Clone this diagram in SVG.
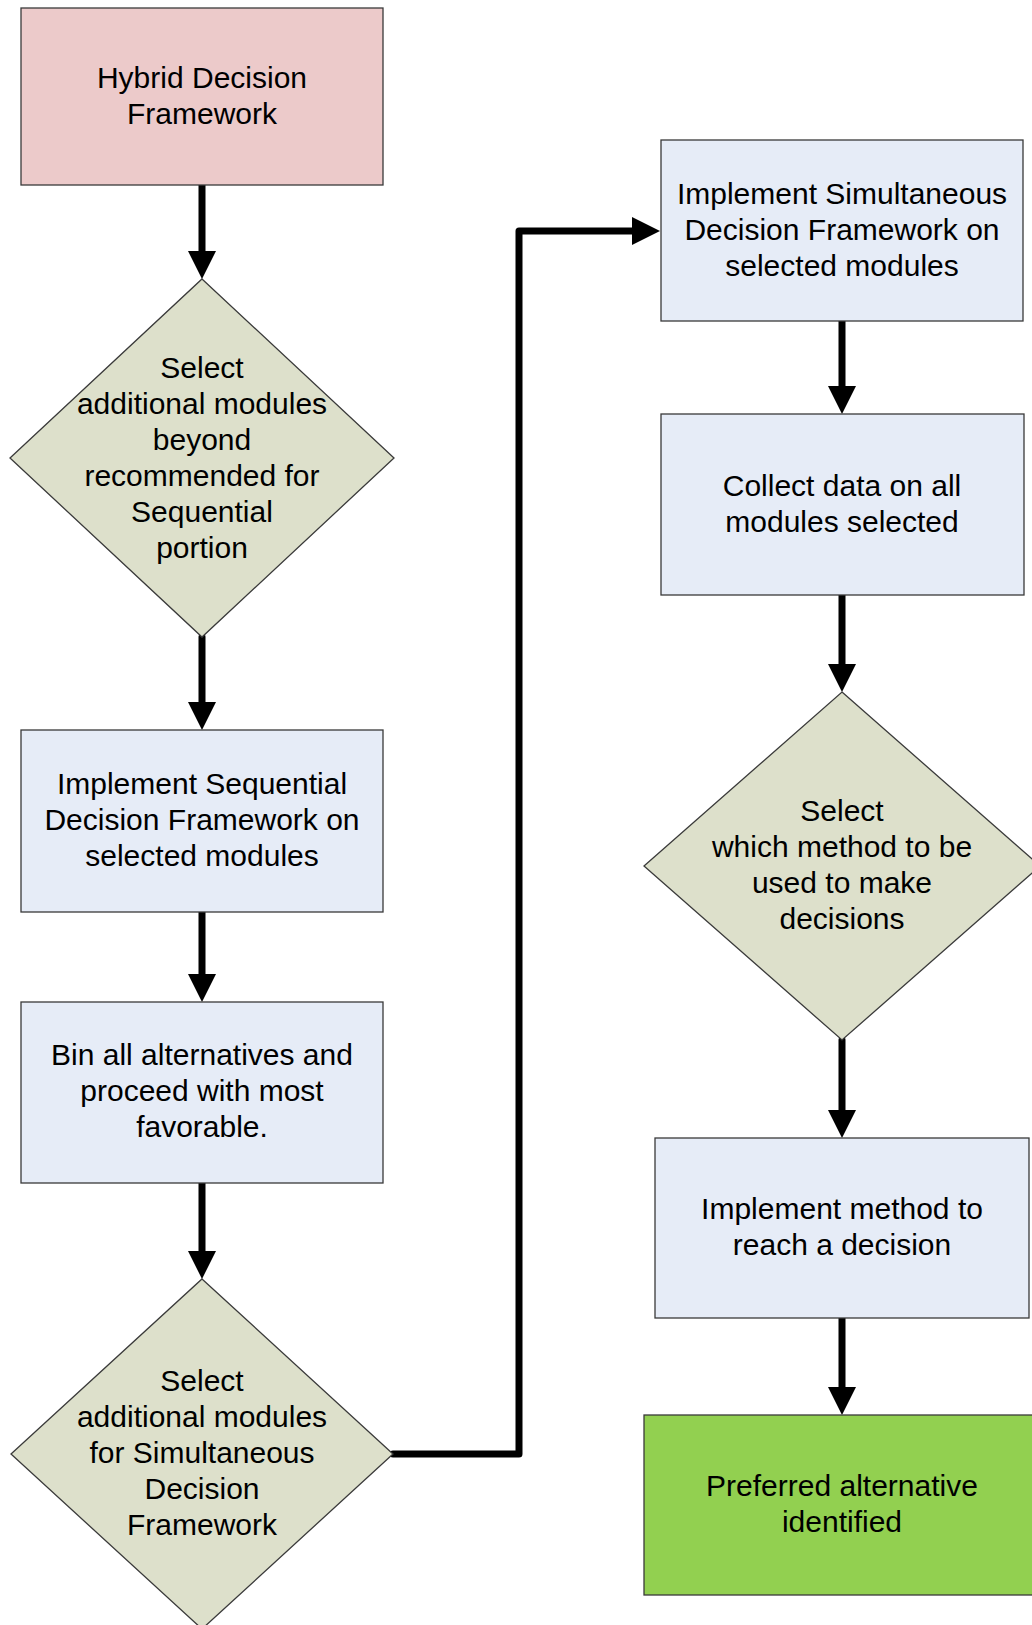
<svg xmlns="http://www.w3.org/2000/svg" width="1032" height="1625" viewBox="0 0 1032 1625">
  <style>
    .box { stroke: #3a3a3a; stroke-width: 1.3; }
    .start { fill: #ECCACA; }
    .step { fill: #E6ECF7; }
    .decision { fill: #DDE0CB; }
    .end { fill: #92D050; }
    .label { font-family: "Liberation Sans", Arial, sans-serif; font-size: 30px; fill: #000; text-anchor: middle; }
    .flow { fill: none; stroke: #000; stroke-width: 7; stroke-linecap: round; stroke-linejoin: round; marker-end: url(#head); }
  </style>
  <defs>
    <marker id="head" markerUnits="userSpaceOnUse" markerWidth="28" markerHeight="28" refX="8" refY="14" orient="auto">
      <path d="M0,0 L28,14 L0,28 Z" fill="#000"/>
    </marker>
  </defs>

  <rect width="1032" height="1625" fill="#fff"/>

  <g id="connectors">
    <path class="flow" d="M202,185 V259"/>
    <path class="flow" d="M202,637 V710"/>
    <path class="flow" d="M202,912 V982"/>
    <path class="flow" d="M202,1183 V1259"/>
    <path class="flow" d="M393,1454 H519 V231 H640"/>
    <path class="flow" d="M842,321 V394"/>
    <path class="flow" d="M842,595 V672"/>
    <path class="flow" d="M842,1040 V1118"/>
    <path class="flow" d="M842,1318 V1395"/>
  </g>

  <g id="hybrid-framework">
    <rect class="box start" x="21" y="8" width="362" height="177"/>
    <text class="label"><tspan x="202" y="88">Hybrid Decision</tspan><tspan x="202" y="124">Framework</tspan></text>
  </g>

  <g id="select-sequential-modules">
    <polygon class="box decision" points="202,279 394,458 202,637 10,458"/>
    <text class="label"><tspan x="202" y="378">Select</tspan><tspan x="202" y="414">additional modules</tspan><tspan x="202" y="450">beyond</tspan><tspan x="202" y="486">recommended for</tspan><tspan x="202" y="522">Sequential</tspan><tspan x="202" y="558">portion</tspan></text>
  </g>

  <g id="implement-sequential">
    <rect class="box step" x="21" y="730" width="362" height="182"/>
    <text class="label"><tspan x="202" y="794">Implement Sequential</tspan><tspan x="202" y="830">Decision Framework on</tspan><tspan x="202" y="866">selected modules</tspan></text>
  </g>

  <g id="bin-alternatives">
    <rect class="box step" x="21" y="1002" width="362" height="181"/>
    <text class="label"><tspan x="202" y="1065">Bin all alternatives and</tspan><tspan x="202" y="1101">proceed with most</tspan><tspan x="202" y="1137">favorable.</tspan></text>
  </g>

  <g id="select-simultaneous-modules">
    <polygon class="box decision" points="202,1279 393,1454 202,1629 11,1454"/>
    <text class="label"><tspan x="202" y="1391">Select</tspan><tspan x="202" y="1427">additional modules</tspan><tspan x="202" y="1463">for Simultaneous</tspan><tspan x="202" y="1499">Decision</tspan><tspan x="202" y="1535">Framework</tspan></text>
  </g>

  <g id="implement-simultaneous">
    <rect class="box step" x="661" y="140" width="362" height="181"/>
    <text class="label"><tspan x="842" y="204">Implement Simultaneous</tspan><tspan x="842" y="240">Decision Framework on</tspan><tspan x="842" y="276">selected modules</tspan></text>
  </g>

  <g id="collect-data">
    <rect class="box step" x="661" y="414" width="363" height="181"/>
    <text class="label"><tspan x="842" y="496">Collect data on all</tspan><tspan x="842" y="532">modules selected</tspan></text>
  </g>

  <g id="select-method">
    <polygon class="box decision" points="842,692 1040,866 842,1040 644,866"/>
    <text class="label"><tspan x="842" y="821">Select</tspan><tspan x="842" y="857">which method to be</tspan><tspan x="842" y="893">used to make</tspan><tspan x="842" y="929">decisions</tspan></text>
  </g>

  <g id="implement-method">
    <rect class="box step" x="655" y="1138" width="374" height="180"/>
    <text class="label"><tspan x="842" y="1219">Implement method to</tspan><tspan x="842" y="1255">reach a decision</tspan></text>
  </g>

  <g id="preferred-alternative">
    <rect class="box end" x="644" y="1415" width="396" height="180"/>
    <text class="label"><tspan x="842" y="1496">Preferred alternative</tspan><tspan x="842" y="1532">identified</tspan></text>
  </g>
</svg>
